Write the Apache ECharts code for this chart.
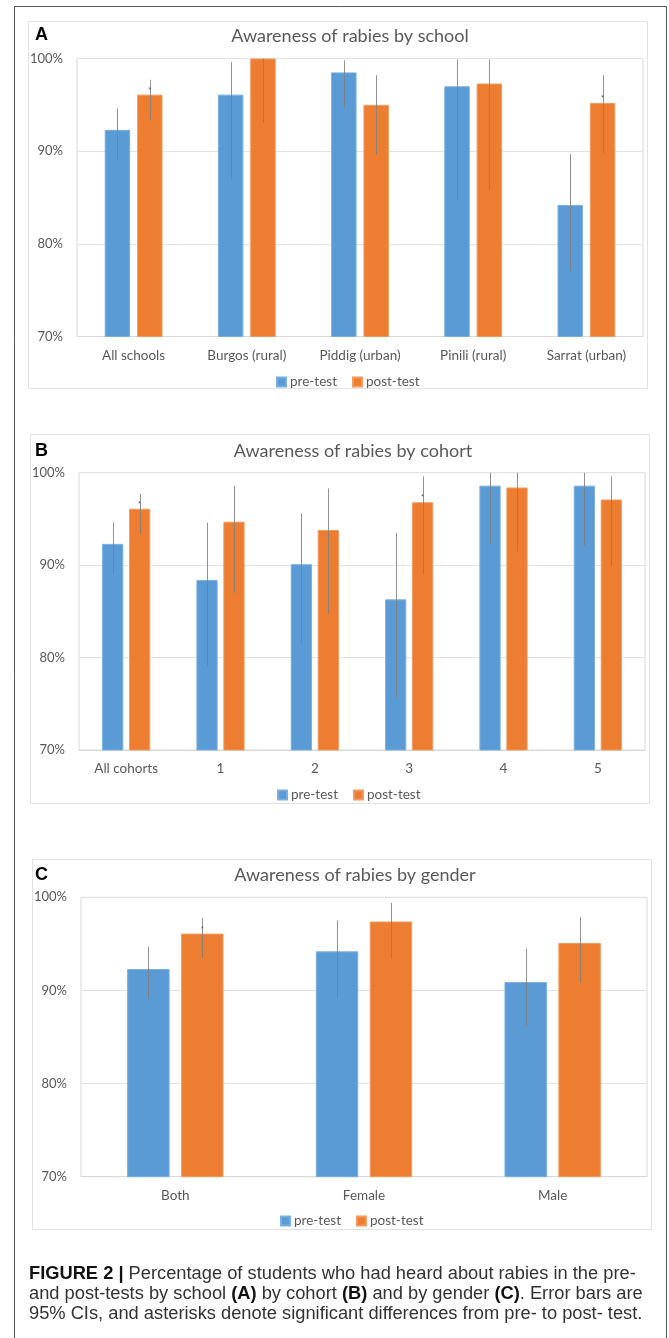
<!DOCTYPE html>
<html>
<head>
<meta charset="utf-8">
<script src="https://cdn.jsdelivr.net/npm/echarts@6/dist/echarts.min.js"></script>
<style>
  html, body { margin: 0; padding: 0; background: #fff; }
  #chart { width: 669px; height: 1338px; }
</style>
</head>
<body>
<div id="chart"></div>
<script>
// ---- Panel A: awareness by school (percent) ----
const schools = ['All schools', 'Burgos (rural)', 'Piddig (urban)', 'Pinili (rural)', 'Sarrat (urban)'];
const schoolPre = [92.3, 96.1, 98.5, 97.0, 84.2];
const schoolPost = [96.1, 100, 95.0, 97.3, 95.2];
const schoolPreLo = [89.0, 86.8, 94.6, 84.7, 77.1];
const schoolPreHi = [94.6, 99.6, 99.8, 99.9, 89.7];
const schoolPostLo = [93.4, 93.1, 89.6, 85.9, 89.8];
const schoolPostHi = [97.7, 100, 98.2, 99.9, 98.2];
const schoolSig = [true, false, false, false, true];

// ---- Panel B: awareness by cohort ----
const cohorts = ['All cohorts', '1', '2', '3', '4', '5'];
const cohortPre = [92.3, 88.4, 90.1, 86.3, 98.6, 98.6];
const cohortPost = [96.1, 94.7, 93.8, 96.8, 98.4, 97.1];
const cohortPreLo = [89.0, 79.1, 81.4, 75.7, 92.3, 92.1];
const cohortPreHi = [94.6, 94.6, 95.6, 93.5, 100, 100];
const cohortPostLo = [93.4, 87.0, 84.7, 89.0, 91.5, 89.9];
const cohortPostHi = [97.7, 98.6, 98.3, 99.6, 100, 99.6];
const cohortSig = [true, false, false, true, false, false];

// ---- Panel C: awareness by gender ----
const genders = ['Both', 'Female', 'Male'];
const genderPre = [92.3, 94.2, 90.9];
const genderPost = [96.1, 97.4, 95.1];
const genderPreLo = [89.1, 89.2, 86.2];
const genderPreHi = [94.7, 97.5, 94.5];
const genderPostLo = [93.5, 93.4, 90.8];
const genderPostHi = [97.8, 99.4, 97.9];
const genderSig = [true, false, false];

// shared axis ticks
const yMin = 70, yMax = 100, yStep = 10;
const seriesNames = ['pre-test', 'post-test'];

const BLUE = '#5b9bd5';
const ORANGE = '#ed7d31';
const BAR_W = 0.225;   // bar width as fraction of category band
const BAR_GAP = 0.27;  // gap between the pair as fraction of bar width
const FONT = 'Lato, "Open Sans", sans-serif';
const GREY_TEXT = '#595959';

const panels = [
  { cats: schools, pre: schoolPre, post: schoolPost, preLo: schoolPreLo, preHi: schoolPreHi,
    postLo: schoolPostLo, postHi: schoolPostHi, sig: schoolSig,
    grid: { left: 77, top: 58.5, width: 566, height: 278 }, legendLeft: 271, legendTop: 370 },
  { cats: cohorts, pre: cohortPre, post: cohortPost, preLo: cohortPreLo, preHi: cohortPreHi,
    postLo: cohortPostLo, postHi: cohortPostHi, sig: cohortSig,
    grid: { left: 79, top: 472.7, width: 566, height: 277.3 }, legendLeft: 272, legendTop: 783 },
  { cats: genders, pre: genderPre, post: genderPost, preLo: genderPreLo, preHi: genderPreHi,
    postLo: genderPostLo, postHi: genderPostHi, sig: genderSig,
    grid: { left: 81, top: 897.3, width: 566, height: 279.4 }, legendLeft: 275, legendTop: 1209 }
];

function pairOffset(api, side) {
  const band = api.size([1, 0])[0];
  const w = band * BAR_W;
  return side * (w + w * BAR_GAP) / 2;
}

function errorBarItem(params, api) {
  const idx = api.value(0);
  const side = api.value(3);
  const top = api.coord([idx, api.value(2)]);
  const bot = api.coord([idx, api.value(1)]);
  const x = Math.round(top[0] + pairOffset(api, side)) + 0.5;
  return {
    type: 'line',
    shape: { x1: x, y1: top[1], x2: x, y2: bot[1] },
    style: { stroke: '#7f7f7f', lineWidth: 1, opacity: 0.85 }
  };
}

function asteriskItem(params, api) {
  const idx = api.value(0);
  const p = api.coord([idx, api.value(1)]);
  const x = p[0] + pairOffset(api, 1);
  return {
    type: 'text',
    x: x, y: p[1] - 5,
    style: { text: '*', fill: '#555', font: '7px sans-serif', align: 'center', verticalAlign: 'middle' }
  };
}

const grids = [], xAxes = [], yAxes = [], series = [], legends = [];

panels.forEach((p, i) => {
  grids.push(Object.assign({ show: true, borderColor: '#d9d9d9', borderWidth: 1, backgroundColor: '#fff' }, p.grid));
  xAxes.push({
    type: 'category', gridIndex: i, data: p.cats,
    axisLine: { show: true, lineStyle: { color: '#d9d9d9' } },
    axisTick: { show: false },
    axisLabel: { color: GREY_TEXT, fontFamily: FONT, fontSize: 13.5, margin: 12 }
  });
  yAxes.push({
    type: 'value', gridIndex: i, min: yMin, max: yMax, interval: yStep,
    axisLine: { show: false }, axisTick: { show: false },
    splitLine: { lineStyle: { color: '#e3e3e3' } },
    axisLabel: { color: GREY_TEXT, fontFamily: FONT, fontSize: 13, margin: 14, formatter: '{value}%' }
  });
  series.push({
    name: seriesNames[0], type: 'bar', xAxisIndex: i, yAxisIndex: i, data: p.pre,
    barWidth: (BAR_W * 100) + '%', barGap: (BAR_GAP * 100) + '%',
    itemStyle: { color: BLUE, borderColor: '#79afe0', borderWidth: 1 }
  });
  series.push({
    name: seriesNames[1], type: 'bar', xAxisIndex: i, yAxisIndex: i, data: p.post,
    barWidth: (BAR_W * 100) + '%', barGap: (BAR_GAP * 100) + '%',
    itemStyle: { color: ORANGE, borderColor: '#f29a5e', borderWidth: 1 }
  });
  const errData = [];
  p.cats.forEach((c, k) => {
    errData.push([k, p.preLo[k], p.preHi[k], -1]);
    errData.push([k, p.postLo[k], p.postHi[k], 1]);
  });
  series.push({
    type: 'custom', xAxisIndex: i, yAxisIndex: i, z: 5, silent: true,
    renderItem: errorBarItem, data: errData, encode: { x: 0, y: [1, 2] }
  });
  const sigData = [];
  p.cats.forEach((c, k) => { if (p.sig[k]) sigData.push([k, p.post[k]]); });
  series.push({
    type: 'custom', xAxisIndex: i, yAxisIndex: i, z: 6, silent: true,
    renderItem: asteriskItem, data: sigData, encode: { x: 0, y: 1 }
  });
  legends.push({
    data: seriesNames, left: p.legendLeft, top: p.legendTop,
    icon: 'rect', itemWidth: 9, itemHeight: 9, itemGap: 15,
    textStyle: { color: GREY_TEXT, fontFamily: FONT, fontSize: 13.5, padding: [0, 0, 0, -1] },
    selectedMode: false
  });
});

// panel frames, letters, titles and the figure caption
const frames = [
  { x: 28, y: 21, w: 619, h: 367, letter: 'A', ly: 35, title: 'Awareness of rabies by school', tx: 350, ty: 36 },
  { x: 30, y: 434, w: 619, h: 369, letter: 'B', ly: 451, title: 'Awareness of rabies by cohort', tx: 353, ty: 451 },
  { x: 32, y: 859, w: 619, h: 370, letter: 'C', ly: 875, title: 'Awareness of rabies by gender', tx: 355, ty: 875 }
];

const graphics = [
  { type: 'rect', z: -10, shape: { x: 14.5, y: 6.5, width: 652, height: 1345 },
    style: { fill: '#fff', stroke: '#555', lineWidth: 1 } }
];
frames.forEach(f => {
  graphics.push({ type: 'rect', z: -9, shape: { x: f.x + 0.5, y: f.y + 0.5, width: f.w, height: f.h },
    style: { fill: '#fff', stroke: '#e2e2e2', lineWidth: 1 } });
  graphics.push({ type: 'text', x: 35, y: f.ly, style: { text: f.letter, fill: '#000',
    font: 'bold 18px "Liberation Sans", Arial, sans-serif', verticalAlign: 'middle' } });
  graphics.push({ type: 'text', x: f.tx, y: f.ty, style: { text: f.title, fill: GREY_TEXT,
    font: '18px ' + FONT, align: 'center', verticalAlign: 'middle' } });
});

const captionLines = [
  '{b|FIGURE 2 |} Percentage of students who had heard about rabies in the pre-',
  'and post-tests by school {b|(A)} by cohort {b|(B)} and by gender {b|(C)}. Error bars are',
  '95% CIs, and asterisks denote significant differences from pre- to post- test.'
];
captionLines.forEach((t, i) => {
  graphics.push({ type: 'text', x: 29, y: 1274 + i * 19.8, style: {
    text: t, fill: '#333', font: '18.3px "Liberation Sans", Arial, sans-serif', verticalAlign: 'middle',
    rich: { b: { fontWeight: 'bold', fontSize: 18.3, fontFamily: '"Liberation Sans", Arial, sans-serif', fill: '#111' } }
  } });
});

const chart = echarts.init(document.getElementById('chart'), null, { renderer: 'canvas' });
chart.setOption({
  animation: false,
  backgroundColor: '#fff',
  graphic: graphics,
  grid: grids,
  xAxis: xAxes,
  yAxis: yAxes,
  legend: legends,
  series: series
});
</script>
</body>
</html>
